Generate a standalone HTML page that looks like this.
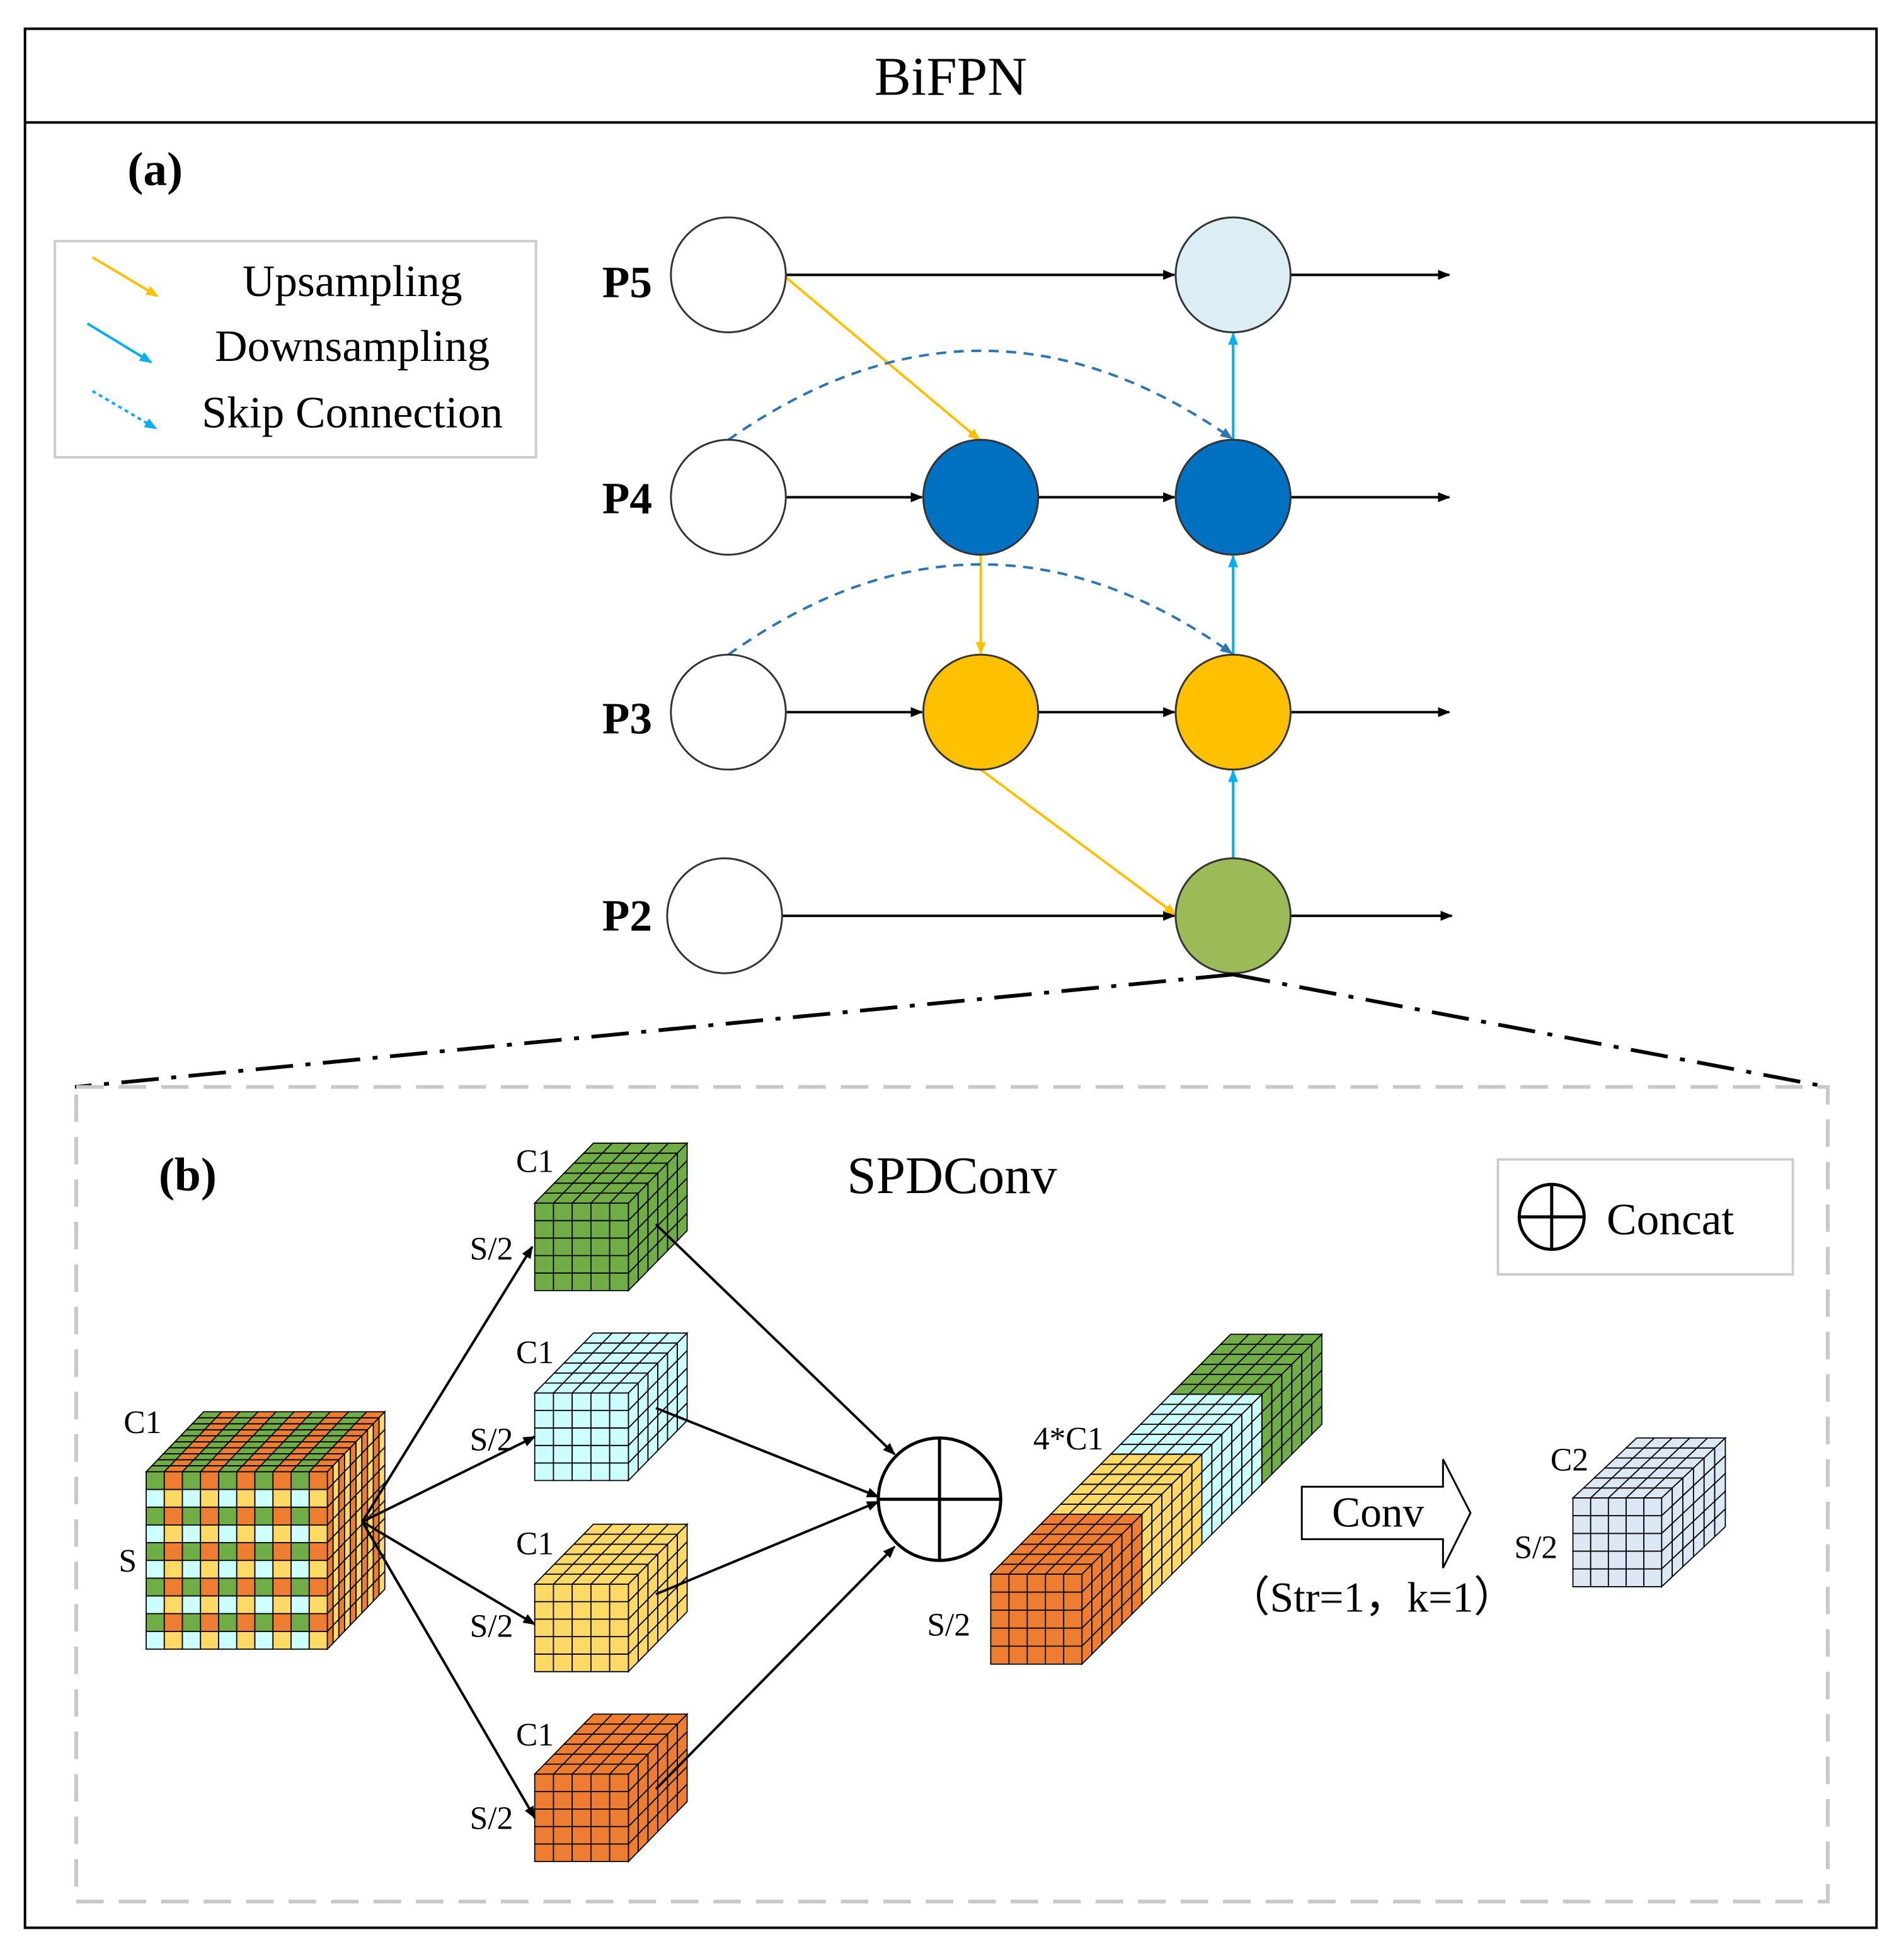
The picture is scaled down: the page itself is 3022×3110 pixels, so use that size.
<!DOCTYPE html>
<html><head><meta charset="utf-8"><style>
html,body{margin:0;padding:0;background:#fff}
svg{display:block}
text{font-family:"Liberation Serif",serif}
</style></head><body>
<svg id="s" width="3022" height="3110" viewBox="0 0 1524 1568" preserveAspectRatio="none" xmlns="http://www.w3.org/2000/svg">
<defs>
<marker id="ak" markerWidth="10" markerHeight="8" refX="9" refY="4" orient="auto" markerUnits="userSpaceOnUse"><path d="M0,0 L10,4 L0,8z" fill="#000"/></marker>
<marker id="ay" markerWidth="10" markerHeight="8" refX="9" refY="4" orient="auto" markerUnits="userSpaceOnUse"><path d="M0,0 L10,4 L0,8z" fill="#ffc000"/></marker>
<marker id="ab" markerWidth="10" markerHeight="8" refX="9" refY="4" orient="auto" markerUnits="userSpaceOnUse"><path d="M0,0 L10,4 L0,8z" fill="#00b0f0"/></marker>
<marker id="ad" markerWidth="10" markerHeight="8" refX="9" refY="4" orient="auto" markerUnits="userSpaceOnUse"><path d="M0,0 L10,4 L0,8z" fill="#2e75b6"/></marker>
</defs>
<rect x="20" y="23" width="1482" height="1520" fill="none" stroke="#000" stroke-width="2"/>
<line x1="20" y1="98" x2="1502" y2="98" stroke="#000" stroke-width="2"/>
<text x="761" y="76" font-size="44" text-anchor="middle">BiFPN</text>
<text x="102" y="148" font-size="38" font-weight="bold">(a)</text>
<rect x="44" y="193" width="385" height="173" fill="none" stroke="#ccc" stroke-width="2"/>
<line x1="74" y1="206" x2="126" y2="237" stroke="#ffc000" stroke-width="2" marker-end="url(#ay)"/>
<line x1="70" y1="259" x2="121" y2="290" stroke="#00b0f0" stroke-width="2" marker-end="url(#ab)"/>
<line x1="74" y1="313" x2="125" y2="343" stroke="#00b0f0" stroke-width="2" stroke-dasharray="3,3" marker-end="url(#ab)"/>
<text x="282" y="237" font-size="36" text-anchor="middle">Upsampling</text>
<text x="282" y="289" font-size="36" text-anchor="middle">Downsampling</text>
<text x="282" y="342" font-size="36" text-anchor="middle">Skip Connection</text>
<g font-size="36" font-weight="bold">
<text x="482" y="238">P5</text><text x="482" y="411">P4</text><text x="482" y="587">P3</text><text x="482" y="745">P2</text></g>
<g stroke="#000" stroke-width="2" fill="none">
<line x1="629" y1="220" x2="940" y2="220" marker-end="url(#ak)"/>
<line x1="1033" y1="220" x2="1160" y2="220" marker-end="url(#ak)"/>
<line x1="629" y1="398" x2="738" y2="398" marker-end="url(#ak)"/>
<line x1="831" y1="398" x2="940" y2="398" marker-end="url(#ak)"/>
<line x1="1033" y1="398" x2="1160" y2="398" marker-end="url(#ak)"/>
<line x1="629" y1="570" x2="738" y2="570" marker-end="url(#ak)"/>
<line x1="831" y1="570" x2="940" y2="570" marker-end="url(#ak)"/>
<line x1="1033" y1="570" x2="1160" y2="570" marker-end="url(#ak)"/>
<line x1="626" y1="733" x2="940" y2="733" marker-end="url(#ak)"/>
<line x1="1033" y1="733" x2="1162" y2="733" marker-end="url(#ak)"/>
</g>
<line x1="629" y1="222" x2="784" y2="352" stroke="#ffc000" stroke-width="2" marker-end="url(#ay)"/>
<line x1="785" y1="444" x2="785" y2="523" stroke="#ffc000" stroke-width="2" marker-end="url(#ay)"/>
<line x1="785" y1="616" x2="941" y2="732" stroke="#ffc000" stroke-width="2" marker-end="url(#ay)"/>
<line x1="987" y1="687" x2="987" y2="617" stroke="#00b0f0" stroke-width="2" marker-end="url(#ab)"/>
<line x1="987" y1="524" x2="987" y2="445" stroke="#00b0f0" stroke-width="2" marker-end="url(#ab)"/>
<line x1="987" y1="352" x2="987" y2="267" stroke="#00b0f0" stroke-width="2" marker-end="url(#ab)"/>
<path d="M583,352 Q785,210 986,351" fill="none" stroke="#2e75b6" stroke-width="2" stroke-dasharray="8,6" marker-end="url(#ad)"/>
<path d="M583,524 Q785,380 986,523" fill="none" stroke="#2e75b6" stroke-width="2" stroke-dasharray="8,6" marker-end="url(#ad)"/>
<g stroke="#333" stroke-width="1.5">
<circle cx="583" cy="220" r="46" fill="#fff"/><circle cx="987" cy="220" r="46" fill="#daeef3"/>
<circle cx="583" cy="398" r="46" fill="#fff"/><circle cx="785" cy="398" r="46" fill="#0070c0"/><circle cx="987" cy="398" r="46" fill="#0070c0"/>
<circle cx="583" cy="570" r="46" fill="#fff"/><circle cx="785" cy="570" r="46" fill="#ffc000"/><circle cx="987" cy="570" r="46" fill="#ffc000"/>
<circle cx="580" cy="733" r="46" fill="#fff"/><circle cx="987" cy="733" r="46" fill="#9bbb59"/>
</g>
<path d="M987,780 L60,870" stroke="#000" stroke-width="3" stroke-dasharray="30,10,4,10" fill="none"/>
<path d="M987,780 L1463,870" stroke="#000" stroke-width="3" stroke-dasharray="30,10,4,10" fill="none"/>
<rect x="61" y="870" width="1402" height="652" fill="none" stroke="#c8c8c8" stroke-width="3" stroke-dasharray="22,12"/>
<text x="127" y="953" font-size="38" font-weight="bold">(b)</text>
<text x="762" y="955" font-size="42" text-anchor="middle">SPDConv</text>
<rect x="1199" y="928" width="236" height="92" fill="none" stroke="#ccc" stroke-width="2"/>
<circle cx="1242" cy="974" r="26" fill="none" stroke="#000" stroke-width="2.5"/>
<line x1="1216" y1="974" x2="1268" y2="974" stroke="#000" stroke-width="2.5"/><line x1="1242" y1="948" x2="1242" y2="1000" stroke="#000" stroke-width="2.5"/>
<text x="1286" y="988" font-size="36">Concat</text>
<g id="cubes"></g>
<g stroke="#000" stroke-width="2" fill="none">
<line x1="290" y1="1218" x2="426" y2="998" marker-end="url(#ak)"/>
<line x1="290" y1="1218" x2="428" y2="1150" marker-end="url(#ak)"/>
<line x1="290" y1="1218" x2="428" y2="1300" marker-end="url(#ak)"/>
<line x1="290" y1="1218" x2="428" y2="1455" marker-end="url(#ak)"/>
<line x1="525" y1="980" x2="716" y2="1164" marker-end="url(#ak)"/>
<line x1="525" y1="1127" x2="703" y2="1198" marker-end="url(#ak)"/>
<line x1="525" y1="1276" x2="703" y2="1202" marker-end="url(#ak)"/>
<line x1="525" y1="1432" x2="716" y2="1238" marker-end="url(#ak)"/>
</g>
<circle cx="752" cy="1200" r="49" fill="#fff" stroke="#000" stroke-width="2.5"/>
<line x1="703" y1="1200" x2="801" y2="1200" stroke="#000" stroke-width="2.5"/><line x1="752" y1="1151" x2="752" y2="1249" stroke="#000" stroke-width="2.5"/>
<path d="M1042,1190 L1155,1190 L1155,1168 L1177,1211 L1155,1255 L1155,1232 L1042,1232z" fill="#fff" stroke="#000" stroke-width="1.5"/>
<text x="1103" y="1222" font-size="34" text-anchor="middle">Conv</text>
<text x="1098" y="1290" font-size="34" text-anchor="middle" font-family="Liberation Serif,Noto Serif CJK SC,serif">（Str=1，k=1）</text>
<g font-size="26">
<text x="99" y="1147">C1</text><text x="95" y="1258">S</text>
<text x="413" y="938">C1</text><text x="376" y="1008">S/2</text>
<text x="413" y="1091">C1</text><text x="376" y="1161">S/2</text>
<text x="413" y="1244">C1</text><text x="376" y="1310">S/2</text>
<text x="413" y="1397">C1</text><text x="376" y="1464">S/2</text>
<text x="827" y="1160">4*C1</text><text x="742" y="1309">S/2</text>
<text x="1241" y="1177">C2</text><text x="1212" y="1247">S/2</text>
</g>
</svg>
<script>
var NS="http://www.w3.org/2000/svg",G=document.getElementById("cubes");
function P(pts,f){var p=document.createElementNS(NS,"polygon");p.setAttribute("points",pts.map(function(a){return a[0].toFixed(2)+","+a[1].toFixed(2)}).join(" "));p.setAttribute("fill",f);p.setAttribute("stroke","#000");p.setAttribute("stroke-width","0.9");G.appendChild(p);}
function cube(x,y,w,h,dx,dy,n,m,d,front,top,side){
 var cw=w/n,ch=h/m,ddx=dx/d,ddy=dy/d,i,j;
 for(i=0;i<n;i++)for(j=0;j<d;j++){var bx=x+i*cw+j*ddx,by=y-j*ddy;P([[bx,by],[bx+cw,by],[bx+cw+ddx,by-ddy],[bx+ddx,by-ddy]],top(i,j));}
 for(j=0;j<d;j++)for(i=0;i<m;i++){var sx=x+w+j*ddx,sy=y+i*ch-j*ddy;P([[sx,sy],[sx+ddx,sy-ddy],[sx+ddx,sy+ch-ddy],[sx,sy+ch]],side(i,j));}
 for(i=0;i<n;i++)for(j=0;j<m;j++)P([[x+i*cw,y+j*ch],[x+(i+1)*cw,y+j*ch],[x+(i+1)*cw,y+(j+1)*ch],[x+i*cw,y+(j+1)*ch]],front(i,j));
}
var GR="#70ad47",OR="#ed7d31",CY="#ccffff",YE="#ffd966",LB="#dde8f5";
function c(v){return function(){return v}}
cube(117,1178,145,142,46,48,10,10,10,function(i,j){return j%2==0?(i%2==0?GR:OR):(i%2==0?CY:YE)},function(i,j){return i%2==0?GR:OR},function(i,j){return j%2==0?OR:YE});
[[963,GR],[1115,CY],[1268,YE],[1420,OR]].forEach(function(a){cube(428,a[0],75,70,47,48,5,5,6,c(a[1]),c(a[1]),c(a[1]));});
var segs=[GR,CY,YE,OR];
for(var k=0;k<4;k++){var col=segs[k],off=3-k;cube(793+off*48,1260-off*48,73,72,48,48,5,5,6,c(col),c(col),c(col));}
cube(1259,1199,71,71,51,48,5,5,6,c(LB),c(LB),c(LB));
</script>
</body></html>
